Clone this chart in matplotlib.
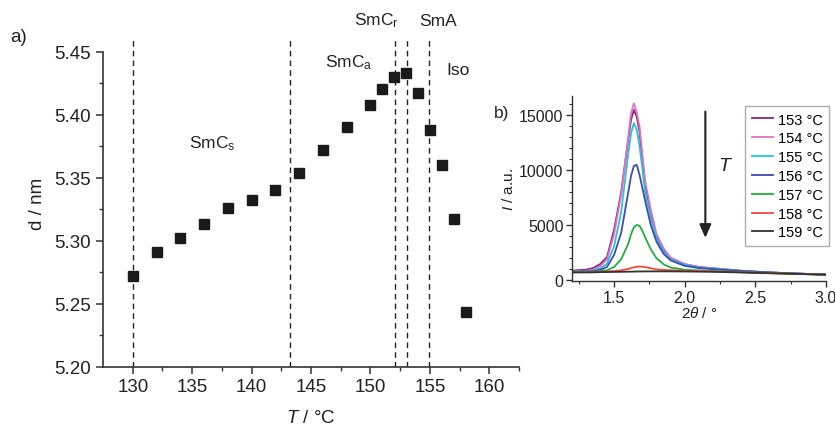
import matplotlib
matplotlib.use("Agg")
import matplotlib.pyplot as plt

plt.rcParams['font.family'] = ['Liberation Sans', 'DejaVu Sans']
plt.rcParams['mathtext.fontset'] = 'custom'
plt.rcParams['mathtext.rm'] = 'Liberation Sans'
plt.rcParams['mathtext.it'] = 'Liberation Sans:italic'

# === DATA: layer spacing vs temperature ===
temp = [130, 132, 134, 136, 138, 140, 142, 144, 146, 148, 150, 151, 152, 153, 154, 155, 156, 157, 158]
d_nm = [5.272, 5.291, 5.302, 5.313, 5.326, 5.332, 5.340, 5.354, 5.372, 5.390, 5.408, 5.420,
        5.430, 5.433, 5.417, 5.388, 5.360, 5.317, 5.243]
transitions = [130, 143.2, 152.1, 153.1, 154.9]
phase_names = ["SmC$_\\mathregular{s}$", "SmC$_\\mathregular{a}$", "SmC$_\\mathregular{r}$", "SmA", "Iso"]
phase_x = [136.7, 148.2, 150.5, 155.7, 157.4]
phase_y = [5.378, 5.442, 5.475, 5.475, 5.436]

# === DATA: XRD curves (inset) ===
two_theta = [1.2, 1.3, 1.35, 1.4, 1.45, 1.5, 1.55, 1.6, 1.62, 1.64, 1.66, 1.68, 1.7, 1.72,
             1.76, 1.8, 1.85, 1.9, 2.0, 2.1, 2.2, 2.4, 2.6, 2.8, 3.0]
curve_labels = ["153 °C", "154 °C", "155 °C", "156 °C", "157 °C", "158 °C", "159 °C"]
curve_colors = ["#7d2a85", "#e070c0", "#2bbfdc", "#3a4db0", "#22ad3e", "#f04a3c", "#333333"]
i_153 = [870, 950, 1100, 1450, 2100, 4600, 8000, 12800, 14600, 15500, 14900, 13500, 11000, 8600,
         6200, 4000, 2800, 2000, 1450, 1200, 1080, 850, 700, 600, 500]
i_154 = [800, 850, 950, 1250, 1900, 4200, 7800, 13000, 15200, 16100, 15300, 14000, 11500, 9000,
         6400, 4200, 2900, 2050, 1450, 1200, 1080, 850, 700, 600, 500]
i_155 = [800, 820, 880, 1050, 1500, 3100, 6200, 11500, 13400, 14300, 13700, 12200, 10200, 8000,
         5600, 3800, 2600, 1900, 1400, 1150, 1050, 850, 700, 600, 500]
i_156 = [780, 790, 820, 930, 1200, 2300, 4300, 8000, 9500, 10400, 10500, 9600, 8400, 7200,
         5000, 3500, 2400, 1800, 1300, 1100, 1000, 830, 700, 600, 500]
i_157 = [750, 760, 780, 820, 900, 1200, 1900, 3300, 4200, 4800, 5030, 4950, 4500, 3900,
         2800, 2000, 1450, 1150, 950, 880, 830, 740, 650, 570, 500]
i_158 = [720, 730, 745, 760, 790, 830, 900, 1020, 1100, 1170, 1220, 1240, 1220, 1190,
         1080, 980, 930, 900, 860, 830, 800, 720, 640, 570, 500]
i_159 = [700, 705, 710, 730, 740, 750, 760, 770, 775, 780, 785, 790, 792, 795,
         800, 800, 800, 798, 790, 775, 760, 700, 630, 560, 500]
curves = [i_153, i_154, i_155, i_156, i_157, i_158, i_159]

fig = plt.figure(figsize=(8.35, 4.27), dpi=100)

# === MAIN PLOT ===
ax = fig.add_axes([0.1234, 0.1389, 0.4982, 0.7675])
for t in transitions:
    ax.plot([t, t], [5.2, 5.46], color="#222222", lw=1.0, ls=(0, (4, 3)))
ax.plot(temp, d_nm, ls="none", marker="s", ms=7.7, color="#1a1a1a")
for name, px, py in zip(phase_names, phase_x, phase_y):
    ax.text(px, py, name, ha="center", va="center", fontsize=12.5, color="#222222")

ax.set_xlim(127.5, 162.5)
ax.set_ylim(5.2, 5.46)
ax.set_xticks([130, 135, 140, 145, 150, 155, 160])
ax.set_xticks([132.5, 137.5, 142.5, 147.5, 152.5, 157.5, 162.5], minor=True)
ax.set_yticks([5.20, 5.25, 5.30, 5.35, 5.40, 5.45])
ax.set_yticks([5.225, 5.275, 5.325, 5.375, 5.425], minor=True)
ax.set_yticklabels(["5.20", "5.25", "5.30", "5.35", "5.40", "5.45"])
ax.spines["top"].set_visible(False)
ax.spines["right"].set_visible(False)
ax.spines["left"].set_bounds(5.2, 5.45)
for s in ("left", "bottom"):
    ax.spines[s].set_color("#333333")
    ax.spines[s].set_linewidth(1.2)
ax.tick_params(which="major", length=5, width=1.1, color="#333333", labelsize=13.5,
               labelcolor="#222222", direction="out")
ax.tick_params(which="minor", length=3, width=1.0, color="#333333", direction="out")
ax.set_xlabel("$\\mathit{T}$ / °C", fontsize=13.5, color="#222222", labelpad=10)
ax.set_ylabel("d / nm", fontsize=13.5, color="#222222", labelpad=6)
fig.text(0.022, 0.913, "a)", fontsize=13.5, ha="center", va="center", color="#222222")

# === INSET ===
ins = fig.add_axes([0.6847, 0.339, 0.3045, 0.4346])
for y, lab, col in zip(curves, curve_labels, curve_colors):
    ins.plot(two_theta, y, color=col, lw=1.3, label=lab)
ins.annotate("", xy=(2.146, 3600), xytext=(2.146, 15600),
             arrowprops=dict(arrowstyle="-|>,head_length=0.8,head_width=0.35", lw=1.5, color="#222222"))
ins.text(2.287, 10400, "$\\mathit{T}$", fontsize=14, ha="center", va="center", color="#222222")

ins.set_xlim(1.2, 3.0)
ins.set_ylim(-100, 16800)
ins.set_xticks([1.5, 2.0, 2.5, 3.0])
ins.set_xticks([1.25, 1.75, 2.25, 2.75], minor=True)
ins.set_yticks([0, 5000, 10000, 15000])
ins.set_yticks([v for v in range(1000, 16001, 1000) if v % 5000], minor=True)
ins.spines["top"].set_visible(False)
ins.spines["right"].set_visible(False)
for s in ("left", "bottom"):
    ins.spines[s].set_color("#333333")
    ins.spines[s].set_linewidth(1.0)
ins.tick_params(which="major", length=4, width=1.0, color="#333333", labelsize=11.5,
                labelcolor="#222222", pad=2)
ins.tick_params(which="minor", length=2.5, width=0.8, color="#333333")
ins.set_xlabel("2$\\mathit{\\theta}$ / °", fontsize=11, labelpad=0, color="#222222")
ins.set_ylabel("$\\mathit{I}$ / a.u.", fontsize=11, labelpad=2, color="#222222")
fig.text(0.601, 0.735, "b)", fontsize=12.5, ha="center", va="center", color="#222222")

leg = ins.legend(loc="upper left", bbox_to_anchor=(745 / 835, 1 - 107 / 427),
                 bbox_transform=fig.transFigure, fontsize=10.5, frameon=True, fancybox=False,
                 handlelength=1.5, handletextpad=0.3, labelspacing=0.33, borderpad=0.45,
                 borderaxespad=0)
leg.get_frame().set_edgecolor("#999999")
leg.get_frame().set_linewidth(1.0)

fig.savefig("out.png", dpi=100)
